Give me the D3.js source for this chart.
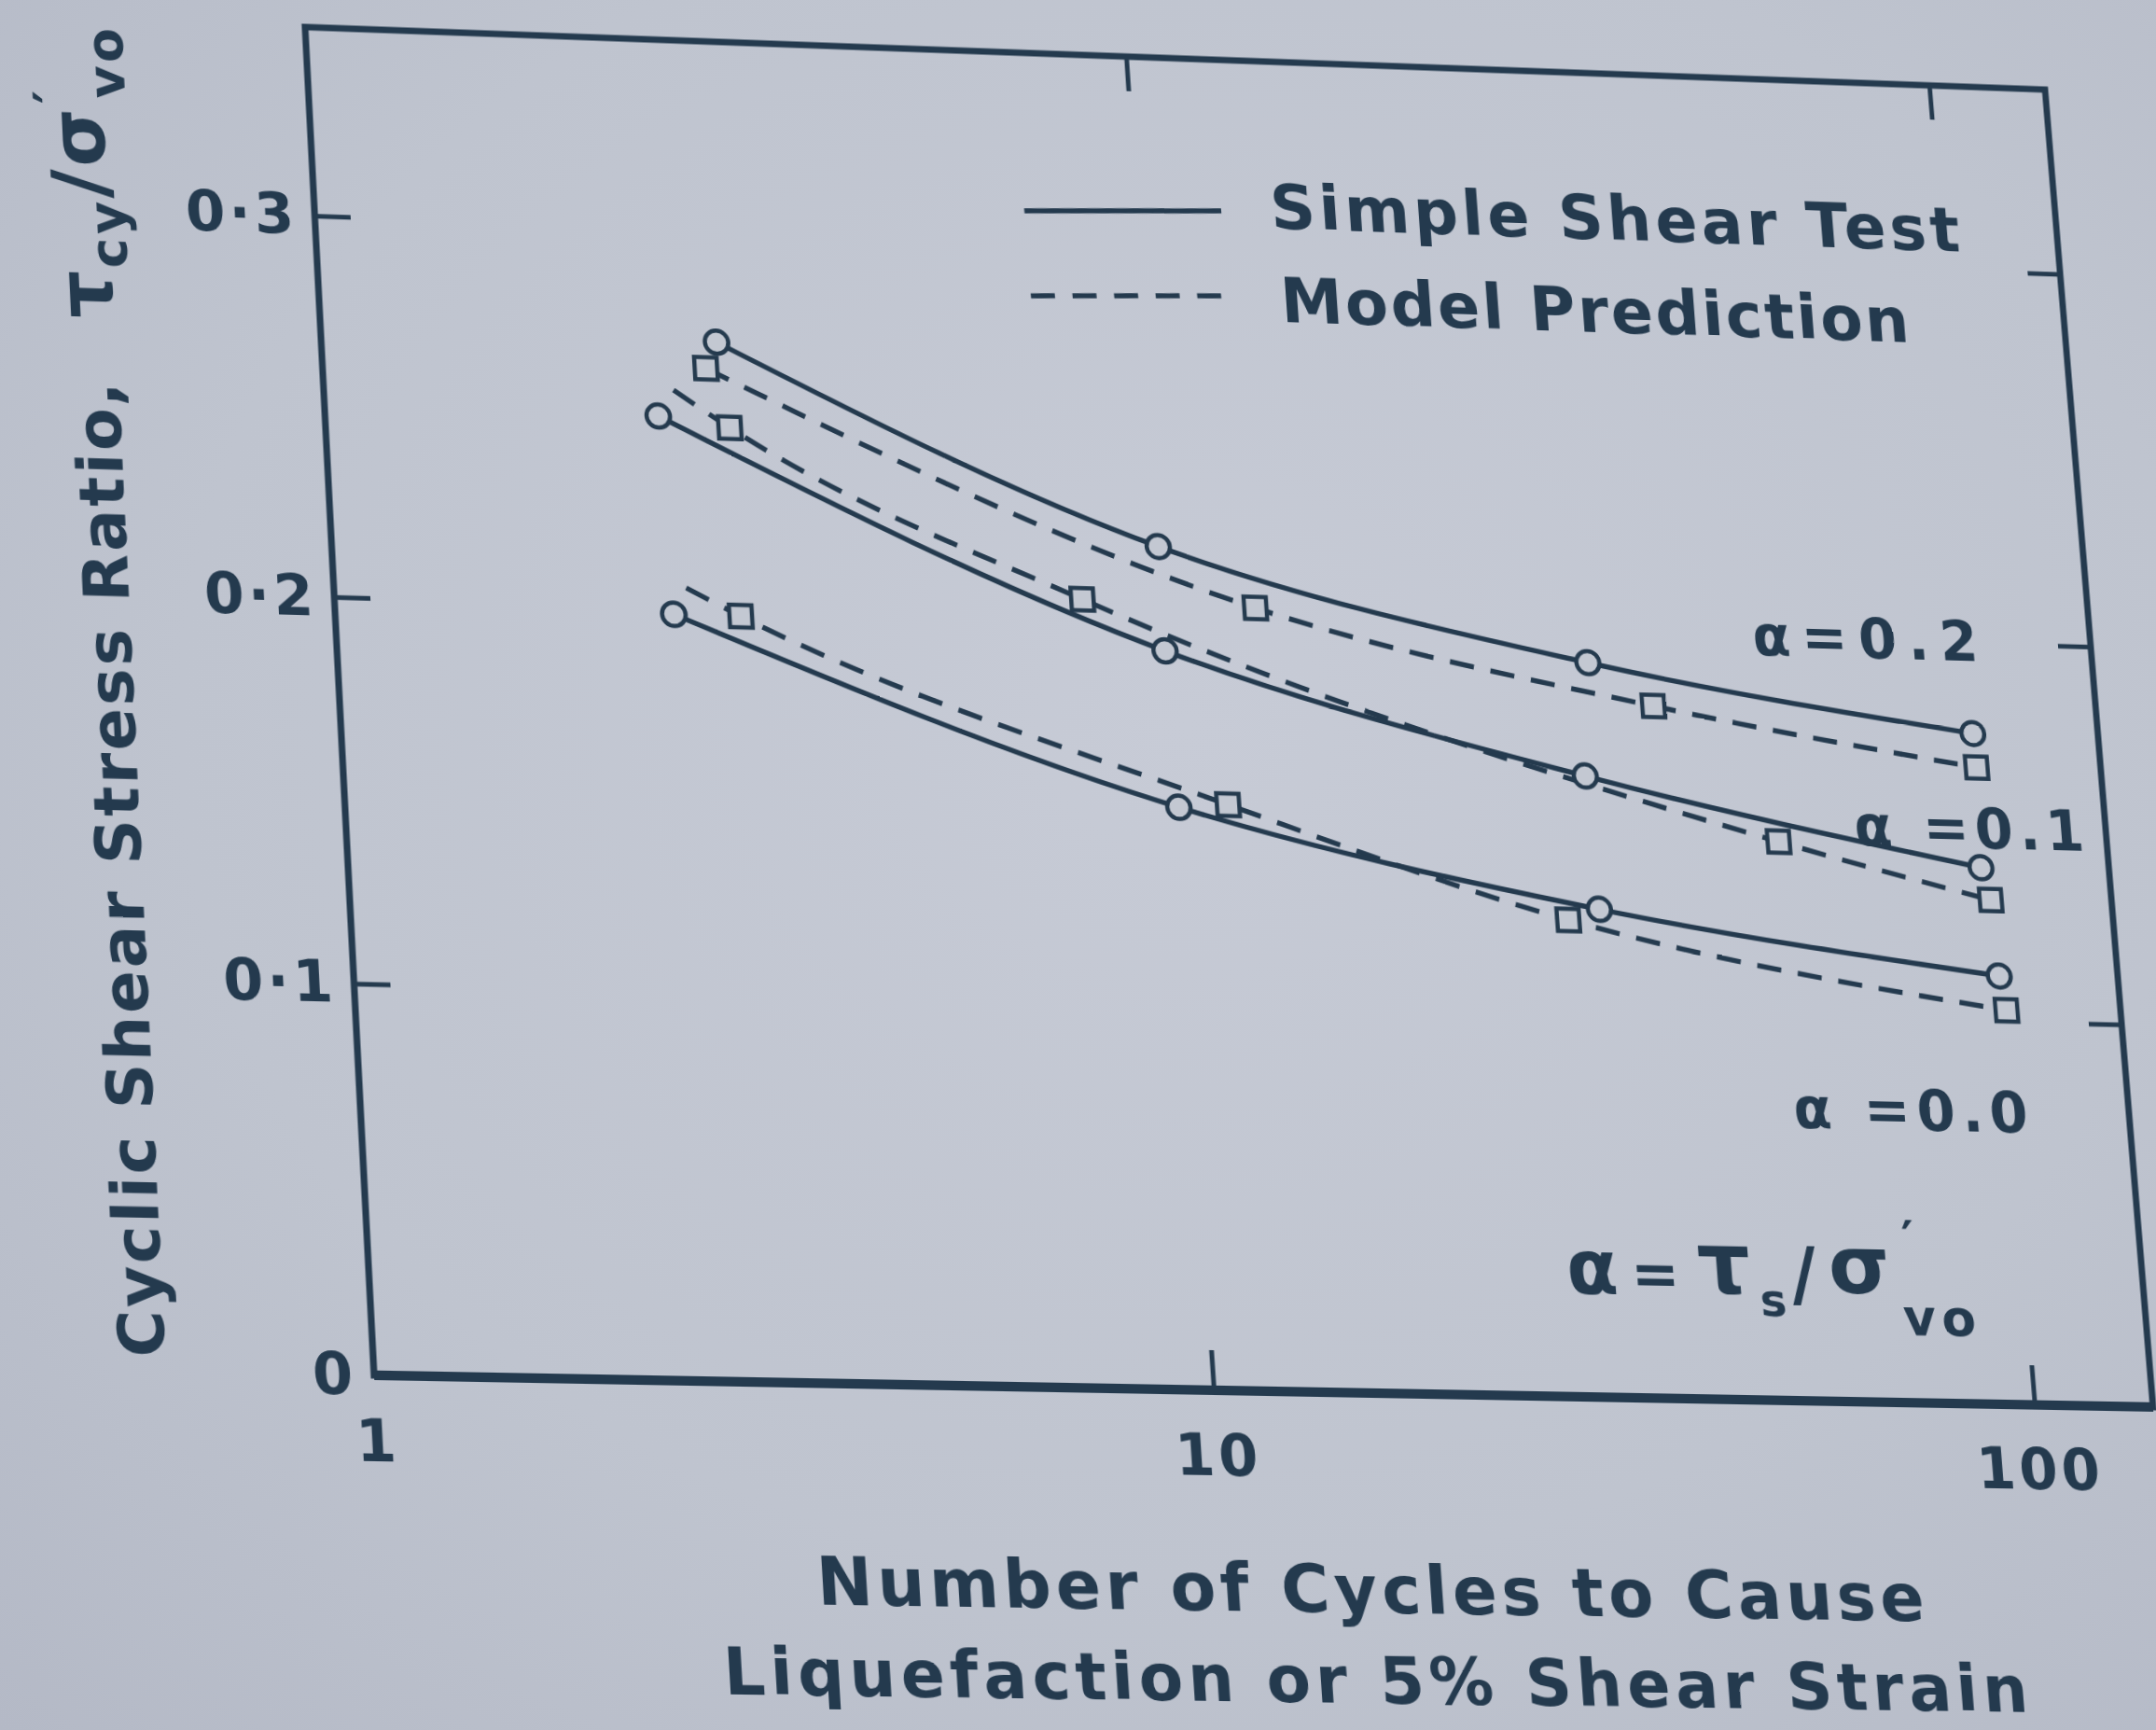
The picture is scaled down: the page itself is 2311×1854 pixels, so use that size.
<!DOCTYPE html>
<html>
<head>
<meta charset="utf-8">
<script src="https://cdn.jsdelivr.net/npm/d3@7"></script>
<style>
  html, body { margin: 0; padding: 0; width: 2311px; height: 1854px; overflow: hidden;
    background: radial-gradient(ellipse at 55% 42%, #c7cbd6 0%, #bfc4cf 60%, #b4b9c6 100%); }
  #wrap { position: absolute; left: 0; top: 0; width: 2311px; height: 1854px; transform-origin: 0 0; }
  text { font-family: "DejaVu Sans", "Liberation Sans", sans-serif; font-weight: bold; fill: #243a4e; }
</style>
</head>
<body>
<div id="wrap"></div>
<script>
// ---------------- data ----------------
const xTickValues = [1, 10, 100];
const yTickValues = [0, 0.1, 0.2, 0.3];
const alphaLabels = ["α=0.2", "α =0.1", "α =0.0"];

// Simple shear test (solid lines, circles)
const testCycles_a02 = [3.0, 10.0, 33.0, 97.7];
const testRatio_a02  = [0.270, 0.2195, 0.192, 0.176];
const testCycles_a01 = [2.52, 10.0, 32.0, 97.0];
const testRatio_a01  = [0.250, 0.192, 0.162, 0.1405];
const testCycles_a00 = [2.55, 10.1, 32.4, 99.7];
const testRatio_a00  = [0.198, 0.151, 0.127, 0.112];

// Model prediction (dashed lines, squares)
const modelCycles_a02 = [2.9, 13.0, 39.4, 98.0];
const modelRatio_a02  = [0.263, 0.204, 0.181, 0.167];
const modelMarked_a02 = [1, 1, 1, 1];
const modelCycles_a01 = [2.64, 3.07, 8.0, 54.7, 99.0];
const modelRatio_a01  = [0.257, 0.2475, 0.205, 0.146, 0.132];
const modelMarked_a01 = [0, 1, 1, 1, 1];
const modelCycles_a00 = [2.65, 3.07, 11.6, 29.6, 101.0];
const modelRatio_a00  = [0.205, 0.198, 0.152, 0.124, 0.103];
const modelMarked_a00 = [0, 1, 1, 1, 1];

// ---------------- layout ----------------
const ink = "#243a4e", paper = "#c3c8d2";
const FL = 360, FR = 2250, FT = 60, FB = 1490;
const flatCorners  = [[FL, FT], [FR, FT], [FR, FB], [FL, FB]];
const photoCorners = [[327, 29], [2192, 96], [2308, 1508], [401, 1474]];

function solveH(src, dst) {
  const A = [], b = [];
  for (let i = 0; i < 4; i++) {
    const [x, y] = src[i], [X, Y] = dst[i];
    A.push([x, y, 1, 0, 0, 0, -X * x, -X * y]); b.push(X);
    A.push([0, 0, 0, x, y, 1, -Y * x, -Y * y]); b.push(Y);
  }
  const n = 8;
  for (let c = 0; c < n; c++) {
    let p = c;
    for (let r = c + 1; r < n; r++) if (Math.abs(A[r][c]) > Math.abs(A[p][c])) p = r;
    [A[c], A[p]] = [A[p], A[c]]; [b[c], b[p]] = [b[p], b[c]];
    for (let r = 0; r < n; r++) {
      if (r === c) continue;
      const f = A[r][c] / A[c][c];
      for (let k = c; k < n; k++) A[r][k] -= f * A[c][k];
      b[r] -= f * b[c];
    }
  }
  const h = b.map((v, i) => v / A[i][i]);
  return [...h, 1];
}
function applyH(h, [x, y]) {
  const w = h[6] * x + h[7] * y + h[8];
  return [(h[0] * x + h[1] * y + h[2]) / w, (h[3] * x + h[4] * y + h[5]) / w];
}
const H = solveH(flatCorners, photoCorners);
const Hinv = solveH(photoCorners, flatCorners);
const P = (X, Y) => applyH(Hinv, [X, Y]);

document.getElementById("wrap").style.transform =
  `matrix3d(${H[0]},${H[3]},0,${H[6]},${H[1]},${H[4]},0,${H[7]},0,0,1,0,${H[2]},${H[5]},0,1)`;

const svg = d3.select("#wrap").append("svg")
  .attr("width", 2311).attr("height", 1854).style("overflow", "visible");

const x = d3.scaleLog().domain([1, 140]).range([FL, FR]);
const y = d3.scaleLinear().domain([0, 0.35]).range([FB, FT]);

// ---------------- axes ----------------
function styleAxis(g) {
  g.attr("color", ink).attr("font-size", null).attr("font-family", null);
  g.select(".domain").remove();
  g.selectAll(".tick line").attr("stroke-width", 5);
  g.selectAll(".tick text").attr("font-size", 60).style("letter-spacing", "4px");
}
svg.append("g").attr("transform", `translate(0,${FB})`)
  .call(d3.axisBottom(x).tickValues(xTickValues).tickFormat(d3.format("d"))
    .tickSize(-42).tickSizeOuter(0).tickPadding(46))
  .call(styleAxis);
svg.append("g").attr("transform", `translate(0,${FT})`)
  .call(d3.axisTop(x).tickValues([10, 100]).tickFormat("").tickSize(-38).tickSizeOuter(0))
  .call(styleAxis);
svg.append("g").attr("transform", `translate(${FL},0)`)
  .call(d3.axisLeft(y).tickValues(yTickValues)
    .tickFormat(d => d === 0 ? "0" : "0·" + Math.round(d * 10))
    .tickSize(-38).tickSizeOuter(0).tickPadding(18))
  .call(styleAxis);
svg.append("g").attr("transform", `translate(${FR},0)`)
  .call(d3.axisRight(y).tickValues([0.1, 0.2, 0.3]).tickFormat("").tickSize(-36).tickSizeOuter(0))
  .call(styleAxis);

// frame
svg.append("rect").attr("x", FL).attr("y", FT).attr("width", FR - FL).attr("height", FB - FT)
  .attr("fill", "none").attr("stroke", ink).attr("stroke-width", 7);
svg.append("line").attr("x1", FL).attr("x2", FR).attr("y1", FB).attr("y2", FB)
  .attr("stroke", ink).attr("stroke-width", 10);

// ---------------- series ----------------
const zip = (a, b, m) => a.map((v, i) => ({ n: v, r: b[i], m: m ? m[i] : 1 }));
const testSeries  = [zip(testCycles_a02, testRatio_a02), zip(testCycles_a01, testRatio_a01), zip(testCycles_a00, testRatio_a00)];
const modelSeries = [zip(modelCycles_a02, modelRatio_a02, modelMarked_a02),
                     zip(modelCycles_a01, modelRatio_a01, modelMarked_a01),
                     zip(modelCycles_a00, modelRatio_a00, modelMarked_a00)];

const line = d3.line().x(d => x(d.n)).y(d => y(d.r)).curve(d3.curveMonotoneX);
const plot = svg.append("g");
modelSeries.forEach(s => plot.append("path").attr("d", line(s)).attr("fill", "none")
  .attr("stroke", ink).attr("stroke-width", 5.5).attr("stroke-dasharray", "26 18"));
testSeries.forEach(s => plot.append("path").attr("d", line(s)).attr("fill", "none")
  .attr("stroke", ink).attr("stroke-width", 5.5));

const sq = 24;
modelSeries.forEach(s => plot.selectAll(null).data(s.filter(d => d.m)).enter().append("rect")
  .attr("x", d => x(d.n) - sq / 2).attr("y", d => y(d.r) - sq / 2)
  .attr("width", sq).attr("height", sq)
  .attr("fill", paper).attr("stroke", ink).attr("stroke-width", 4.5));
testSeries.forEach(s => plot.selectAll(null).data(s).enter().append("circle")
  .attr("cx", d => x(d.n)).attr("cy", d => y(d.r)).attr("r", 12.5)
  .attr("fill", paper).attr("stroke", ink).attr("stroke-width", 4.5));

// ---------------- text ----------------
function label(str, sx, sy, ex, size) {
  const a = P(sx, sy), b = P(ex, sy);
  svg.append("text").attr("x", a[0]).attr("y", a[1]).attr("font-size", size)
    .attr("textLength", b[0] - a[0]).attr("lengthAdjust", "spacing").text(str);
}
// legend
[[1098, 1309, 226, null], [1105, 1312, 317, "26 19"]].forEach(([x1, x2, yy, dash]) => {
  const a = P(x1, yy), b = P(x2, yy);
  svg.append("line").attr("x1", a[0]).attr("y1", a[1]).attr("x2", b[0]).attr("y2", b[1])
    .attr("stroke", ink).attr("stroke-width", 5.5).attr("stroke-dasharray", dash);
});
label("Simple Shear Test", 1363, 245, 2100, 68);
label("Model Prediction", 1374, 345, 2046, 68);

// alpha labels
label(alphaLabels[0], 1880, 702, 2121, 60);
label(alphaLabels[1], 1989, 906, 2235, 60);
label(alphaLabels[2], 1924, 1209, 2175, 60);

// definition  α = τs/σ'vo
[["α", 1681, 1386, 80], ["=", 1750, 1386, 62], ["τ", 1822, 1386, 90], ["s", 1888, 1410, 48],
 ["/", 1922, 1392, 76], ["σ", 1962, 1386, 86], ["′", 2040, 1346, 52], ["vo", 2042, 1430, 54]]
  .forEach(([t, px, py, fs]) => {
    const a = P(px, py);
    const el = svg.append("text").attr("x", a[0]).attr("y", a[1]).attr("font-size", fs).text(t);
    if (t === "vo") el.style("letter-spacing", "6px");
  });

// x title
label("Number of Cycles to Cause", 877, 1720, 2063, 70);
label("Liquefaction or 5% Shear Strain", 777, 1816, 2174, 68);

// y title (rotated)
{
  const a = P(177, 1455), b = P(125, 410);
  svg.append("text").attr("transform", `translate(${a[0]},${a[1]}) rotate(-90)`)
    .attr("font-size", 66).attr("textLength", a[1] - b[1]).attr("lengthAdjust", "spacing")
    .text("Cyclic Shear Stress Ratio,");
  const t = P(121, 342), te = P(107, 30);
  const tt = svg.append("text").attr("transform", `translate(${t[0]},${t[1]}) rotate(-90)`)
    .attr("font-size", 80).attr("textLength", t[1] - te[1]).attr("lengthAdjust", "spacing");
  tt.append("tspan").text("τ");
  tt.append("tspan").attr("font-size", 54).attr("dy", 18).text("cy");
  tt.append("tspan").attr("dy", -18).text("/σ");
  tt.append("tspan").attr("font-size", 54).attr("dy", -34).text("′");
  tt.append("tspan").attr("font-size", 54).attr("dx", -10).attr("dy", 58).text("vo");
}
</script>
</body>
</html>
